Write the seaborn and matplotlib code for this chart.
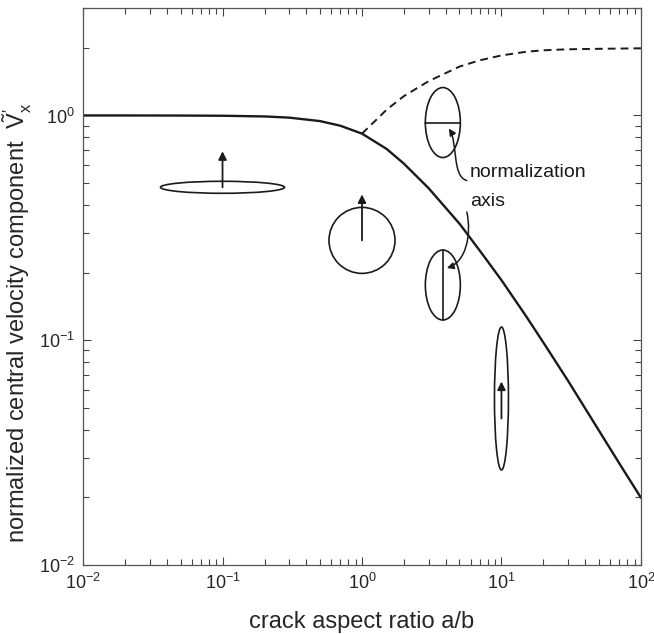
import matplotlib

matplotlib.use("Agg")
import matplotlib.pyplot as plt
import seaborn as sns
from matplotlib.patches import Ellipse, FancyArrowPatch
from matplotlib.path import Path
from matplotlib.transforms import IdentityTransform

# solid curve: crack aspect ratio a/b vs normalized central velocity
aspect_ratio = [0.01, 0.02, 0.05, 0.1, 0.2, 0.3, 0.5, 0.7, 1.0, 1.5, 2.0, 3.0,
                5.0, 7.0, 10.0, 15.0, 20.0, 30.0, 50.0, 70.0, 100.0]
velocity = [1.0, 1.0, 0.999, 0.997, 0.99, 0.978, 0.944, 0.90, 0.83, 0.71, 0.61, 0.475,
            0.33, 0.25, 0.185, 0.128, 0.0975, 0.066, 0.0396, 0.0283, 0.0199]

# dashed curve: same quantity normalized by the other axis, a/b >= 1
aspect_ratio_long = [1.0, 1.5, 2.0, 3.0, 5.0, 7.0, 10.0, 15.0, 20.0, 30.0, 50.0, 100.0]
velocity_long = [0.83, 1.06, 1.22, 1.42, 1.65, 1.76, 1.85, 1.92, 1.95, 1.97, 1.98, 1.99]

# crack sketches: centre (data coords), size in pixels, what is drawn inside
glyph_x = [0.1, 1.0, 3.8, 3.8, 10.0]
glyph_y = [0.479, 0.278, 0.93, 0.176, 0.055]
glyph_w = [124, 66, 35, 35, 14]
glyph_h = [12, 66, 70, 70, 143]
glyph_inner = ["arrow", "arrow", "hline", "vline", "arrow"]
# arrow start / end, pixels above the centre
arrow_from = [0, 0, 0, 0, -20]
arrow_to = [36, 46, 0, 0, 17]

INK = "#1a1a1a"

sns.set_style("ticks")
plt.rcParams["font.family"] = ["Liberation Sans", "DejaVu Sans"]
plt.rcParams["mathtext.fontset"] = "custom"
plt.rcParams["mathtext.rm"] = "Liberation Sans"
plt.rcParams["mathtext.it"] = "Liberation Sans:italic"
plt.rcParams["mathtext.sf"] = "Liberation Sans"

fig = plt.figure(figsize=(6.54, 6.34), dpi=100)
ax = fig.add_axes([0.127, 0.109, 0.853, 0.878])
ax.set(xscale="log", yscale="log")

sns.lineplot(x=aspect_ratio, y=velocity, ax=ax, color=INK, linewidth=1.7, sort=False)
sns.lineplot(x=aspect_ratio_long, y=velocity_long, ax=ax, color=INK, linewidth=1.4,
             sort=False, linestyle=(0, (4, 2.6)))

ax.set_xlim(1e-2, 1e2)
ax.set_ylim(1e-2, 3)
ax.set_xlabel("crack aspect ratio a/b", fontsize=17)
ax.set_ylabel(r"normalized central velocity component  $\tilde{\mathrm{V}}^{\prime}_{\mathrm{x}}$",
              fontsize=17)
ax.xaxis.set_label_coords(0.5, -0.083)
ax.yaxis.set_label_coords(-0.088, 0.435)
ax.tick_params(which="both", direction="in", top=True, right=True, labelsize=13,
               color="#444444", width=0.8)
ax.tick_params(which="major", length=6, pad=6)
ax.tick_params(which="minor", length=4)
for spine in ax.spines.values():
    spine.set_color("#555555")
    spine.set_linewidth(0.9)


def px(x, y):
    return ax.transData.transform((x, y))


def arrow(p0, p1, lw=1.3):
    a = FancyArrowPatch(p0, p1, arrowstyle="-|>", mutation_scale=12, shrinkA=0, shrinkB=0,
                        color=INK, linewidth=lw, transform=IdentityTransform())
    ax.add_patch(a)


for gx, gy, w, h, kind, a0, a1 in zip(glyph_x, glyph_y, glyph_w, glyph_h, glyph_inner,
                                       arrow_from, arrow_to):
    cx, cy = px(gx, gy)
    ax.add_patch(Ellipse((cx, cy), w, h, transform=IdentityTransform(), fill=False,
                         edgecolor=INK, linewidth=1.2))
    if kind == "arrow":
        arrow((cx, cy + a0), (cx, cy + a1))
    elif kind == "hline":
        ax.plot([cx - w / 2, cx + w / 2], [cy, cy], color=INK, lw=1.2, transform=IdentityTransform())
    else:
        ax.plot([cx, cx], [cy - h / 2, cy + h / 2], color=INK, lw=1.2, transform=IdentityTransform())

# "normalization axis" label and its two curved pointers
ux, uy = px(glyph_x[2], glyph_y[2])
lx, ly = px(glyph_x[3], glyph_y[3])
ax.text(ux + 27, uy - 50, "normalization", transform=IdentityTransform(), fontsize=14,
        ha="left", va="center", color=INK)
ax.text(ux + 27, uy - 79, "axis", transform=IdentityTransform(), fontsize=14,
        ha="left", va="center", color=INK)

curve_codes = [Path.MOVETO, Path.CURVE4, Path.CURVE4, Path.CURVE4]
upper_path = Path([(ux + 24, uy - 58), (ux + 9, uy - 54), (ux + 15, uy - 20), (ux + 6, uy - 6)],
                  curve_codes)
lower_path = Path([(lx + 24, ly + 73), (lx + 29, ly + 50), (lx + 23, ly + 23), (lx + 4, ly + 17)],
                  curve_codes)
for p in (upper_path, lower_path):
    ax.add_patch(FancyArrowPatch(path=p, arrowstyle="-|>", mutation_scale=10, color=INK,
                                 linewidth=1.1, transform=IdentityTransform()))

fig.savefig("out.png", dpi=100)
